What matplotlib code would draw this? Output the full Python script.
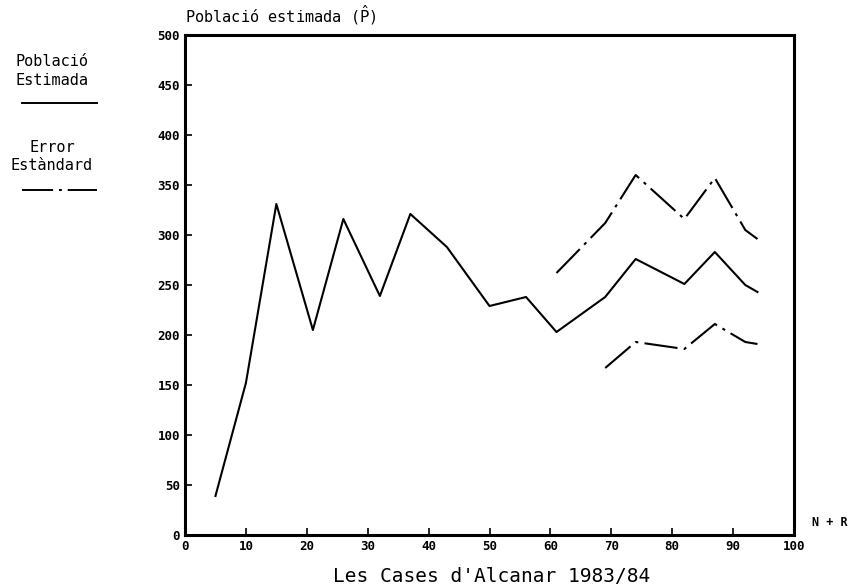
import matplotlib
matplotlib.use("Agg")
from matplotlib import pyplot as plt

# dades llegides del gràfic
mostra = [5, 10, 15, 21, 26, 32, 37, 43, 50, 56, 61, 69, 74, 82, 87, 92, 94]
poblacio = [39, 152, 331, 205, 316, 239, 321, 288, 229, 238, 203, 238, 276, 251, 283, 250, 243]

mostra_err = [61, 69, 74, 82, 87, 92, 94]
error_sup = [262, 312, 360, 316, 357, 305, 296]
mostra_err_inf = [69, 74, 82, 87, 92, 94]
error_inf = [167, 193, 186, 211, 193, 191]

y_ticks = [0, 50, 100, 150, 200, 250, 300, 350, 400, 450, 500]
x_ticks = [0, 10, 20, 30, 40, 50, 60, 70, 80, 90, 100]

font = 'DejaVu Sans Mono'
dashdot = (0, (16, 3, 1.5, 3))

fig = plt.figure(figsize=(8.59, 5.86), dpi=100)
ax = fig.add_axes([185/859, 51/586, 609/859, 500/586])

ax.plot(mostra, poblacio, color='black', linewidth=1.5)
ax.plot(mostra_err, error_sup, color='black', linewidth=1.5, linestyle=dashdot)
ax.plot(mostra_err_inf, error_inf, color='black', linewidth=1.5, linestyle=dashdot)

ax.set_xlim(0, 100)
ax.set_ylim(0, 500)
ax.set_xticks(x_ticks)
ax.set_yticks(y_ticks)
ax.tick_params(direction='in', length=5, width=1.2, labelsize=9)
for lab in ax.get_xticklabels() + ax.get_yticklabels():
    lab.set_family(font)
    lab.set_fontweight('bold')
for s in ax.spines.values():
    s.set_linewidth(2.2)

ax.text(0, 508, 'Població estimada ($\\hat{\\mathrm{P}}$)', family=font, fontsize=11,
        ha='left', va='bottom')
ax.text(103, 12, 'N + R', family=font, fontsize=8.5, fontweight='bold', ha='left', va='center')

fig.text(492/859, 1 - 577/586, "Les Cases d'Alcanar 1983/84", family=font, fontsize=14,
         ha='center', va='center')

# llegenda manual a l'esquerra
fig.text(52/859, 1 - 62/586, 'Població', family=font, fontsize=11, ha='center', va='center')
fig.text(52/859, 1 - 81/586, 'Estimada', family=font, fontsize=11, ha='center', va='center')
fig.add_artist(plt.Line2D([22/859, 97/859], [1 - 103/586, 1 - 103/586],
                          color='black', linewidth=1.4))
fig.text(52/859, 1 - 147/586, 'Error', family=font, fontsize=11, ha='center', va='center')
fig.text(52/859, 1 - 166/586, 'Estàndard', family=font, fontsize=11, ha='center', va='center')
fig.add_artist(plt.Line2D([22/859, 97/859], [1 - 190/586, 1 - 190/586],
                          color='black', linewidth=1.4, linestyle=dashdot))

plt.savefig('out.png', dpi=100)
